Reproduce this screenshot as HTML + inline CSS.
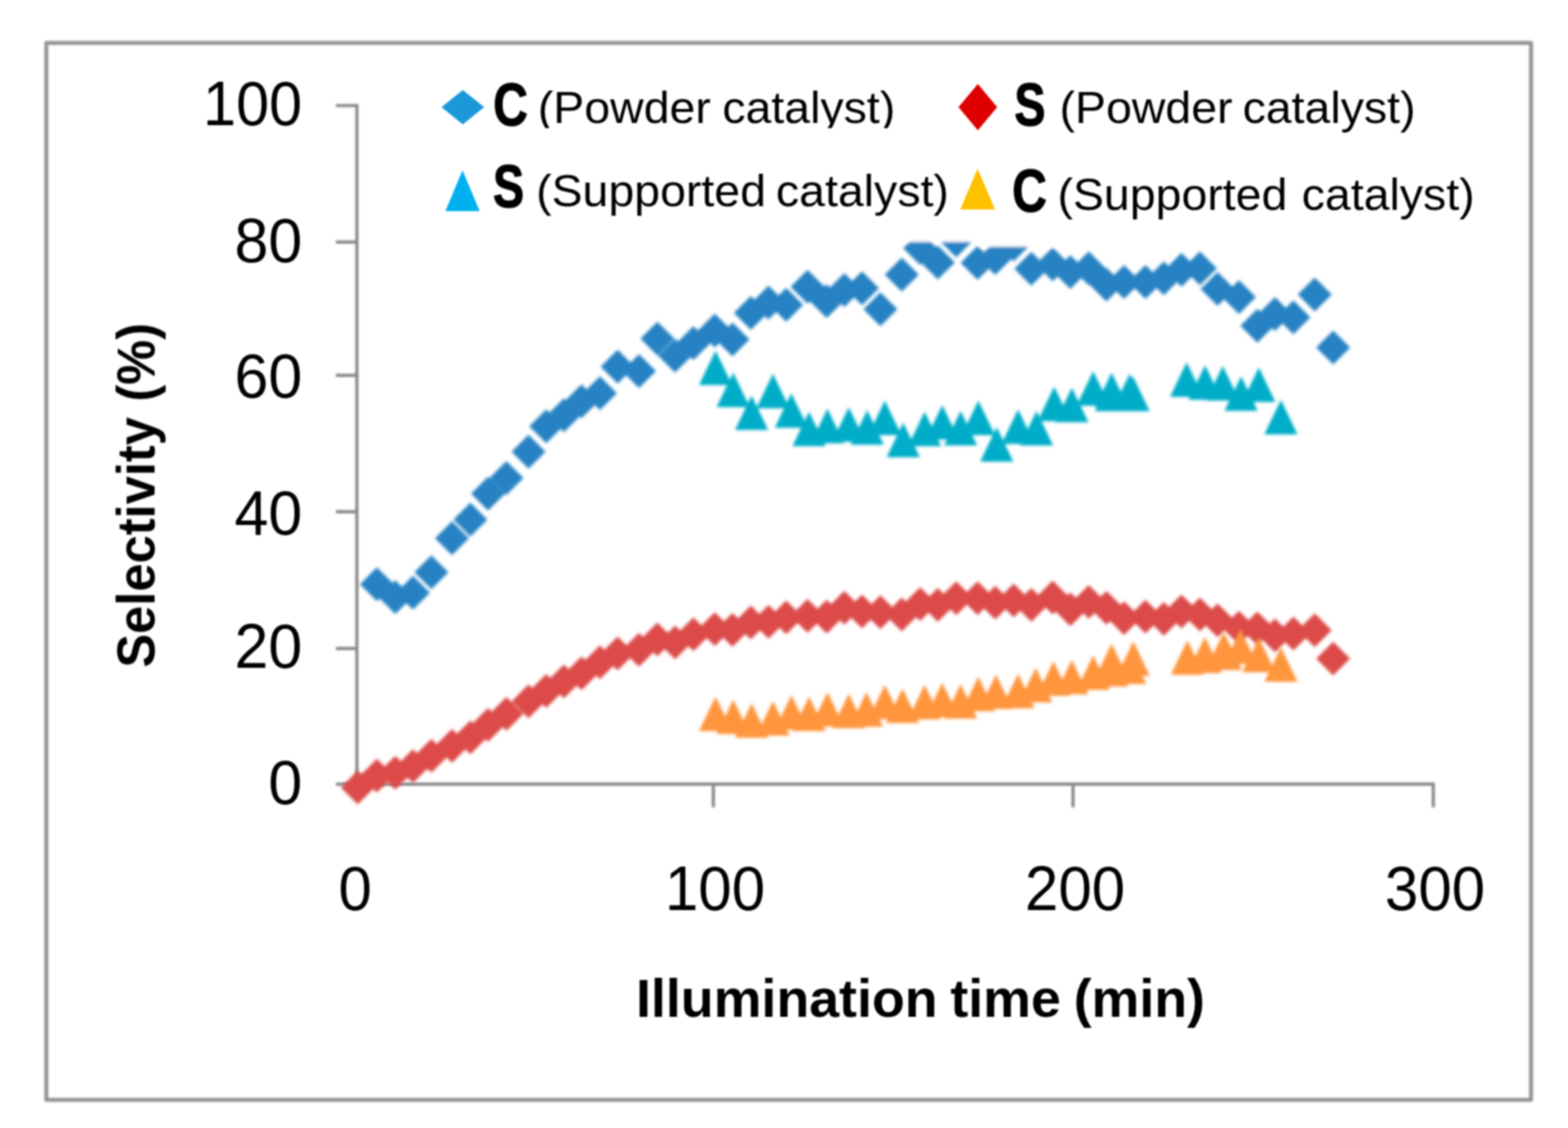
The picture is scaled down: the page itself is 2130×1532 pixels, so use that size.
<!DOCTYPE html>
<html lang="en">
<head>
<meta charset="utf-8">
<title>Selectivity vs. illumination time</title>
<style>
html,body{margin:0;padding:0;background:#fff;}
body{width:2130px;height:1532px;overflow:hidden;}
svg{display:block;}
text{font-family:"Liberation Sans",sans-serif;fill:#000;}
.b{font-weight:bold;}
</style>
</head>
<body>
<svg width="2130" height="1532" viewBox="0 0 2130 1532" role="img" aria-label="Selectivity (%) versus illumination time (min)">
<defs>
<filter id="soft" x="-2%" y="-2%" width="104%" height="104%"><feGaussianBlur stdDeviation="1.5"/></filter>
<filter id="softm" x="-2%" y="-2%" width="104%" height="104%"><feGaussianBlur stdDeviation="2.0"/></filter>
<filter id="softl" x="-2%" y="-2%" width="104%" height="104%"><feGaussianBlur stdDeviation="0.9"/></filter>
<filter id="softt" x="-2%" y="-2%" width="104%" height="104%"><feGaussianBlur stdDeviation="1.0"/></filter>
<clipPath id="lg1"><rect x="600" y="90" width="700" height="83.5"/></clipPath>
</defs>
<rect width="2130" height="1532" fill="#fff"/>
<g id="frame-and-axes" filter="url(#soft)">
<rect x="62.9" y="58.2" width="2016.9" height="1435.6" fill="none" stroke="#949494" stroke-width="5.4" stroke-linejoin="round"/>
<path d="M484.8 141.2V1067.2M482.6 1065H1949.2M456.3 143.4H484.8M456.3 328.8H484.8M456.3 509.8H484.8M456.3 695H484.8M456.3 880.7H484.8M456.3 1065H484.8M969 1065V1096.5M1457.6 1065V1096.5M1947 1065V1096.5" fill="none" stroke="#8a8a8a" stroke-width="4.4"/>
</g>
<g id="series" filter="url(#softm)">
<path fill="#2582c2" d="M512 770.4l23 23l-23 23l-23 -23zM537 788l23 23l-23 23l-23 -23zM561 782l23 23l-23 23l-23 -23zM586 754.2l23 23l-23 23l-23 -23zM614 708l23 23l-23 23l-23 -23zM639 682.7l23 23l-23 23l-23 -23zM663 647.5l23 23l-23 23l-23 -23zM688 626.3l23 23l-23 23l-23 -23zM718 590.6l23 23l-23 23l-23 -23zM742 556l23 23l-23 23l-23 -23zM766 541l23 23l-23 23l-23 -23zM790 522l23 23l-23 23l-23 -23zM815 511l23 23l-23 23l-23 -23zM839 475l23 23l-23 23l-23 -23zM868 481l23 23l-23 23l-23 -23zM893 437l23 23l-23 23l-23 -23zM917 460l23 23l-23 23l-23 -23zM942 443l23 23l-23 23l-23 -23zM971 426l23 23l-23 23l-23 -23zM995 438l23 23l-23 23l-23 -23zM1020 402l23 23l-23 23l-23 -23zM1044 388l23 23l-23 23l-23 -23zM1068 391l23 23l-23 23l-23 -23zM1097 366.5l23 23l-23 23l-23 -23zM1123 386l23 23l-23 23l-23 -23zM1147 371l23 23l-23 23l-23 -23zM1171 368.6l23 23l-23 23l-23 -23zM1196 397l23 23l-23 23l-23 -23zM1225 350l23 23l-23 23l-23 -23zM1250 314l23 23l-23 23l-23 -23zM1274 333.4l23 23l-23 23l-23 -23zM1299 303.4l23 23l-23 23l-23 -23zM1328 334l23 23l-23 23l-23 -23zM1352 327.4l23 23l-23 23l-23 -23zM1377 309l23 23l-23 23l-23 -23zM1401 342l23 23l-23 23l-23 -23zM1430 336l23 23l-23 23l-23 -23zM1454 346.4l23 23l-23 23l-23 -23zM1479 341.4l23 23l-23 23l-23 -23zM1503 363.6l23 23l-23 23l-23 -23zM1527 360l23 23l-23 23l-23 -23zM1556 360l23 23l-23 23l-23 -23zM1581 355l23 23l-23 23l-23 -23zM1605 343.4l23 23l-23 23l-23 -23zM1630 341.4l23 23l-23 23l-23 -23zM1654 369.6l23 23l-23 23l-23 -23zM1683 380.6l23 23l-23 23l-23 -23zM1708 419.6l23 23l-23 23l-23 -23zM1732 403.4l23 23l-23 23l-23 -23zM1757 408l23 23l-23 23l-23 -23zM1786 377l23 23l-23 23l-23 -23zM1811 449l23 23l-23 23l-23 -23z"/>
<path fill="#dc4c4a" d="M486 1046.4l23 23l-23 23l-23 -23zM512 1030.4l23 23l-23 23l-23 -23zM537 1026.4l23 23l-23 23l-23 -23zM561 1017.4l23 23l-23 23l-23 -23zM586 1003.4l23 23l-23 23l-23 -23zM614 990l23 23l-23 23l-23 -23zM639 978.4l23 23l-23 23l-23 -23zM663 961.4l23 23l-23 23l-23 -23zM688 946.4l23 23l-23 23l-23 -23zM718 929.4l23 23l-23 23l-23 -23zM742 915.4l23 23l-23 23l-23 -23zM766 902.4l23 23l-23 23l-23 -23zM790 891.4l23 23l-23 23l-23 -23zM815 876.4l23 23l-23 23l-23 -23zM839 864.4l23 23l-23 23l-23 -23zM868 859.4l23 23l-23 23l-23 -23zM893 845.4l23 23l-23 23l-23 -23zM917 849.4l23 23l-23 23l-23 -23zM942 838.4l23 23l-23 23l-23 -23zM971 831.4l23 23l-23 23l-23 -23zM995 832.4l23 23l-23 23l-23 -23zM1020 822.4l23 23l-23 23l-23 -23zM1044 821.4l23 23l-23 23l-23 -23zM1068 815.4l23 23l-23 23l-23 -23zM1097 813.4l23 23l-23 23l-23 -23zM1123 814.4l23 23l-23 23l-23 -23zM1147 802.4l23 23l-23 23l-23 -23zM1171 807.4l23 23l-23 23l-23 -23zM1196 808.4l23 23l-23 23l-23 -23zM1225 811.4l23 23l-23 23l-23 -23zM1250 797.4l23 23l-23 23l-23 -23zM1274 798.4l23 23l-23 23l-23 -23zM1299 789.4l23 23l-23 23l-23 -23zM1328 789.4l23 23l-23 23l-23 -23zM1352 795.4l23 23l-23 23l-23 -23zM1377 792.4l23 23l-23 23l-23 -23zM1401 798.4l23 23l-23 23l-23 -23zM1430 788.4l23 23l-23 23l-23 -23zM1454 804.4l23 23l-23 23l-23 -23zM1479 794.4l23 23l-23 23l-23 -23zM1503 802.4l23 23l-23 23l-23 -23zM1527 816.4l23 23l-23 23l-23 -23zM1556 814.4l23 23l-23 23l-23 -23zM1581 817.4l23 23l-23 23l-23 -23zM1605 807.4l23 23l-23 23l-23 -23zM1630 811.4l23 23l-23 23l-23 -23zM1654 819.4l23 23l-23 23l-23 -23zM1683 829.4l23 23l-23 23l-23 -23zM1708 830.4l23 23l-23 23l-23 -23zM1732 840l23 23l-23 23l-23 -23zM1757 837.4l23 23l-23 23l-23 -23zM1786 833l23 23l-23 23l-23 -23zM1811 871.4l23 23l-23 23l-23 -23z"/>
<path fill="#00adc8" d="M972 475.9l22.5 47h-45zM996 505.9l22.5 47h-45zM1021 536.9l22.5 47h-45zM1050 507.5l22.5 47h-45zM1075 534l22.5 47h-45zM1099 559l22.5 47h-45zM1124 555l22.5 47h-45zM1153 553l22.5 47h-45zM1178 557l22.5 47h-45zM1202 544l22.5 47h-45zM1227 574l22.5 47h-45zM1256 559l22.5 47h-45zM1280 550l22.5 47h-45zM1305 558l22.5 47h-45zM1329 544l22.5 47h-45zM1354 580l22.5 47h-45zM1383 556l22.5 47h-45zM1408 558l22.5 47h-45zM1432 525l22.5 47h-45zM1456 526.5l22.5 47h-45zM1485 504l22.5 47h-45zM1509.8 511.5l22.5 47h-45zM1539.2 511.5l22.5 47h-45zM1510 506l22.5 47h-45zM1534.7 507.4l22.5 47h-45zM1612 491.9l22.5 47h-45zM1637 495.9l22.5 47h-45zM1661 496.9l22.5 47h-45zM1686 510.9l22.5 47h-45zM1710 499.1l22.5 47h-45zM1740 542.9l22.5 47h-45z"/>
<path fill="#ff953c" d="M972 945.9l22.5 47h-45zM996 949.9l22.5 47h-45zM1021 954.9l22.5 47h-45zM1050 951.9l22.5 47h-45zM1075 943.9l22.5 47h-45zM1099 945.9l22.5 47h-45zM1124 939.9l22.5 47h-45zM1153 941.9l22.5 47h-45zM1177 939.9l22.5 47h-45zM1202 929.9l22.5 47h-45zM1226 934.9l22.5 47h-45zM1256 929.9l22.5 47h-45zM1280 926.9l22.5 47h-45zM1305 928.9l22.5 47h-45zM1329 918.9l22.5 47h-45zM1353 915.9l22.5 47h-45zM1383 914.9l22.5 47h-45zM1407 906.9l22.5 47h-45zM1431 897.9l22.5 47h-45zM1456 895.9l22.5 47h-45zM1485 889.9l22.5 47h-45zM1510 885.6l22.5 47h-45zM1534.7 881.9l22.5 47h-45zM1510 873.9l22.5 47h-45zM1539.5 871l22.5 47h-45zM1613 869.4l22.5 47h-45zM1635.5 867.3l22.5 47h-45zM1664.6 863l22.5 47h-45zM1637 865.4l22.5 47h-45zM1662 858.9l22.5 47h-45zM1685 854.9l22.5 47h-45zM1710 865.9l22.5 47h-45zM1740 878.9l22.5 47h-45z"/>
<rect x="600" y="215" width="731" height="113.5" fill="#fff"/>
<rect x="1331" y="215" width="679" height="120" fill="#fff"/>
</g>
<g id="legend-markers" filter="url(#softl)">
<path fill="#1e98d9" d="M628.7 122.3l29 23.3l-29 23.3l-29 -23.3z"/>
<path fill="#de0000" d="M1328.3 114.1l26.3 31.5l-26.3 31.5l-26.3 -31.5z"/>
<path fill="#00b0f0" d="M628.3 231.2l23.3 55.6h-46.6z"/>
<path fill="#ffc000" d="M1328 228.9l23.6 55.6h-47.2z"/>
</g>
<g id="labels" filter="url(#softt)">
<text text-anchor="end" font-size="84.5" transform="translate(410.5 169.8) scale(0.9550 1)">100</text>
<text text-anchor="end" font-size="84.5" transform="translate(410.5 355.6) scale(0.9800 1)">80</text>
<text text-anchor="end" font-size="84.5" transform="translate(410.5 540.2) scale(0.9800 1)">60</text>
<text text-anchor="end" font-size="84.5" transform="translate(410.5 725.7) scale(0.9800 1)">40</text>
<text text-anchor="end" font-size="84.5" transform="translate(410.5 907.2) scale(0.9800 1)">20</text>
<text text-anchor="end" font-size="84.5" transform="translate(410.5 1092.2) scale(0.9800 1)">0</text>
<text text-anchor="middle" font-size="85" transform="translate(482.5 1235.5) scale(0.9600 1)">0</text>
<text text-anchor="middle" font-size="85" transform="translate(971.2 1235.5) scale(0.9600 1)">100</text>
<text text-anchor="middle" font-size="85" transform="translate(1460.4 1235.5) scale(0.9600 1)">200</text>
<text text-anchor="middle" font-size="85" transform="translate(1949.4 1235.5) scale(0.9600 1)">300</text>
<text class="b" font-size="73" transform="translate(210 906.7) rotate(-90) scale(0.9420 1)">Selectivity <tspan x="383.4">(%)</tspan></text>
<text class="b" font-size="73" transform="translate(864 1380.6)">Illumination <tspan x="426.9">time </tspan><tspan x="594.5">(min)</tspan></text>
<text class="b" stroke="#000" stroke-width="1.6" stroke-linejoin="round" font-size="82.4" transform="translate(669.9 169.5) scale(0.7900 1)">C</text>
<g clip-path="url(#lg1)"><text font-size="61" transform="translate(730.6 167.2) scale(1.0350 1)">(Powder <tspan x="242.1">catalyst)</tspan></text></g>
<text class="b" stroke="#000" stroke-width="1.6" stroke-linejoin="round" font-size="82.4" transform="translate(1378.1 169.5) scale(0.7670 1)">S</text>
<text font-size="61" transform="translate(1439.3 167.2) scale(1.0350 1)">(Powder <tspan x="240.2">catalyst)</tspan></text>
<text class="b" stroke="#000" stroke-width="1.6" stroke-linejoin="round" font-size="82.4" transform="translate(669.8 280.7) scale(0.7670 1)">S</text>
<text font-size="61" transform="translate(728.2 279.8) scale(1.0350 1)">(Supported <tspan x="314.8">catalyst)</tspan></text>
<text class="b" stroke="#000" stroke-width="1.6" stroke-linejoin="round" font-size="82.4" transform="translate(1375.1 286.7) scale(0.7900 1)">C</text>
<text font-size="61" transform="translate(1436.5 285.2) scale(1.0350 1)">(Supported <tspan x="320.5">catalyst)</tspan></text>
</g>
</svg>
</body>
</html>
